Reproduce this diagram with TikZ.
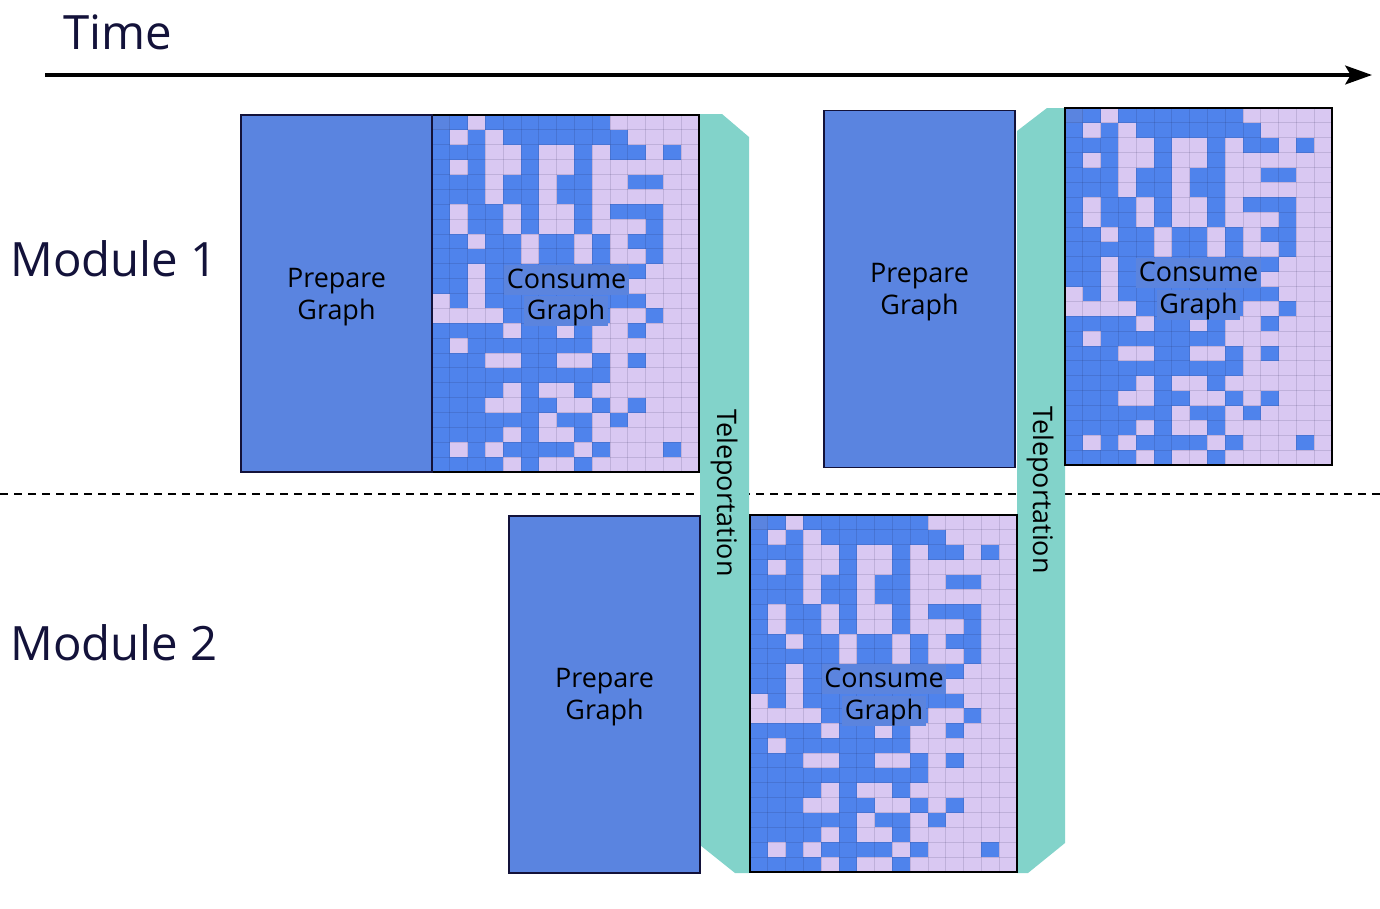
\documentclass[tikz,border=0pt]{standalone}
\usepackage{fontspec}
\setmainfont{Open Sans}
\usetikzlibrary{arrows.meta}
\definecolor{prepblue}{HTML}{5A84E0}
\definecolor{cellblue}{HTML}{4F83EC}
\definecolor{lav}{HTML}{D9C8F2}
\definecolor{tealband}{HTML}{82D3CA}
\definecolor{navy}{HTML}{13123A}
\definecolor{labelblue}{HTML}{5B84DE}
\newcommand\lblfont{\fontsize{20.2pt}{24pt}\selectfont}
\newcommand\bigfont{\fontsize{35.5pt}{40pt}\selectfont}
\def\lightcells{0/{2,10,11,12,13,14},1/{1,3,11,12,13,14},2/{3,4,6,7,9,12,14},3/{1,3,4,6,7,9,10,11,12,13,14},4/{3,6,9,10,13,14},5/{3,6,9,10,11,12,13,14},6/{1,4,6,7,9,13,14},7/{1,4,6,7,9,10,11,13,14},8/{2,5,8,10,13,14},9/{5,8,10,11,13,14},10/{2,12,13,14},11/{2,11,12,13,14},12/{0,2,12,13,14},13/{0,1,2,3,10,11,13,14},14/{4,7,9,10,12,13,14},15/{1,9,10,11,12,13,14},16/{3,4,7,8,10,12,13,14},17/{10,11,12,13,14},18/{4,6,7,9,10,11,12,13,14},19/{3,4,7,8,10,12,13,14},20/{6,9,11,12,13,14},21/{4,6,7,9,10,11,12,13,14},22/{1,3,8,10,11,12,14},23/{4,6,7,9,10,11,12,13,14}}
\newcommand\cellgrid[2]{%
  \begin{scope}[shift={(#1,#2)}]
    \fill[cellblue] (0,0) rectangle (267,357);
    \fill[prepblue] (0,0) rectangle (17.8,14.875);
    \foreach \rr/\cs in \lightcells {
      \foreach \cc in \cs {
        \fill[lav] ({\cc*17.8},{\rr*14.875}) rectangle ++(17.8,14.875);
      }
    }
    \foreach \ii in {1,...,14} \draw[gl] ({\ii*17.8},0) -- ({\ii*17.8},357);
    \foreach \ii in {1,...,23} \draw[gl] (0,{\ii*14.875}) -- (267,{\ii*14.875});
  \end{scope}}
\begin{document}
\begin{tikzpicture}[x=0.75pt,y=-0.75pt,
  gl/.style={draw=navy, opacity=0.13, line width=0.6pt},
  prepbox/.style={draw=navy, line width=1.2pt, fill=prepblue, minimum width=143.25pt, minimum height=267.75pt, inner sep=0pt},
  preptext/.style={align=center, font=\lblfont, text=black, inner sep=0pt},
  gridframe/.style={draw=black, line width=1.5pt, minimum width=200.25pt, minimum height=267.75pt, inner sep=0pt},
  tag/.style={fill=labelblue, inner xsep=2pt, inner ysep=1.5pt, text height=16.25pt, text depth=3.75pt, font=\lblfont, text=black},
  band/.style={fill=tealband},
  tele/.style={rotate=-90, font=\lblfont, text=black, inner sep=0pt},
  bigtext/.style={anchor=base west, font=\bigfont, text=navy, inner sep=0pt}]
\useasboundingbox (0,0) rectangle (1380,908);
% time axis
\node[bigtext] (time) at (63,49) {Time};
\coordinate (tstart) at (45,75);
\coordinate (tend) at (1372,75);
\draw[line width=3pt, -{Stealth[length=20pt,width=14pt,inset=4pt]}] (tstart) -- (tend);
% module labels
\node[bigtext] (mod1) at (10,276) {Module 1};
\node[bigtext] (mod2) at (10,660) {Module 2};
% separator
\coordinate (sepl) at (0,494);
\coordinate (sepr) at (1380,494);
\draw[line width=1.5pt, dash pattern=on 6pt off 4.5pt] (sepl) -- (sepr);
% teleportation bands
\fill[band] (700,114) -- (722,114) -- (749,137) -- (749,873) -- (735,873) -- (700,845) -- cycle;
\fill[band] (1017,131) -- (1047,108) -- (1065,108) -- (1065,843) -- (1028,873) -- (1017,873) -- cycle;
\node[tele] (tele1) at (724,493) {Teleportation};
\node[tele] (tele2) at (1040,490) {Teleportation};
% grids
\cellgrid{432}{115}
\cellgrid{1065}{108}
\cellgrid{750}{515}
\node[gridframe] (grid1) at (565.5,293.5) {};
\node[gridframe] (grid2) at (1198.5,286.5) {};
\node[gridframe] (grid3) at (883.5,693.5) {};
% prepare boxes
\node[prepbox] (prep1) at (336.5,293.5) {};
\node[prepbox] (prep2) at (919.5,289) {};
\node[prepbox] (prep3) at (604.5,694.5) {};
\node[preptext] (prep1t) at (336.5,297) {Prepare\\Graph};
\node[preptext] (prep2t) at (919.5,292.5) {Prepare\\Graph};
\node[preptext] (prep3t) at (604.5,697.5) {Prepare\\Graph};
% consume labels
\node[tag] (cons1a) at (566.5,280) {Consume};
\node[tag] (cons1b) at (566,311) {Graph};
\node[tag] (cons2a) at (1198.5,273) {Consume};
\node[tag] (cons2b) at (1198.5,305) {Graph};
\node[tag] (cons3a) at (884,679) {Consume};
\node[tag] (cons3b) at (884,711) {Graph};
\end{tikzpicture}
\end{document}
